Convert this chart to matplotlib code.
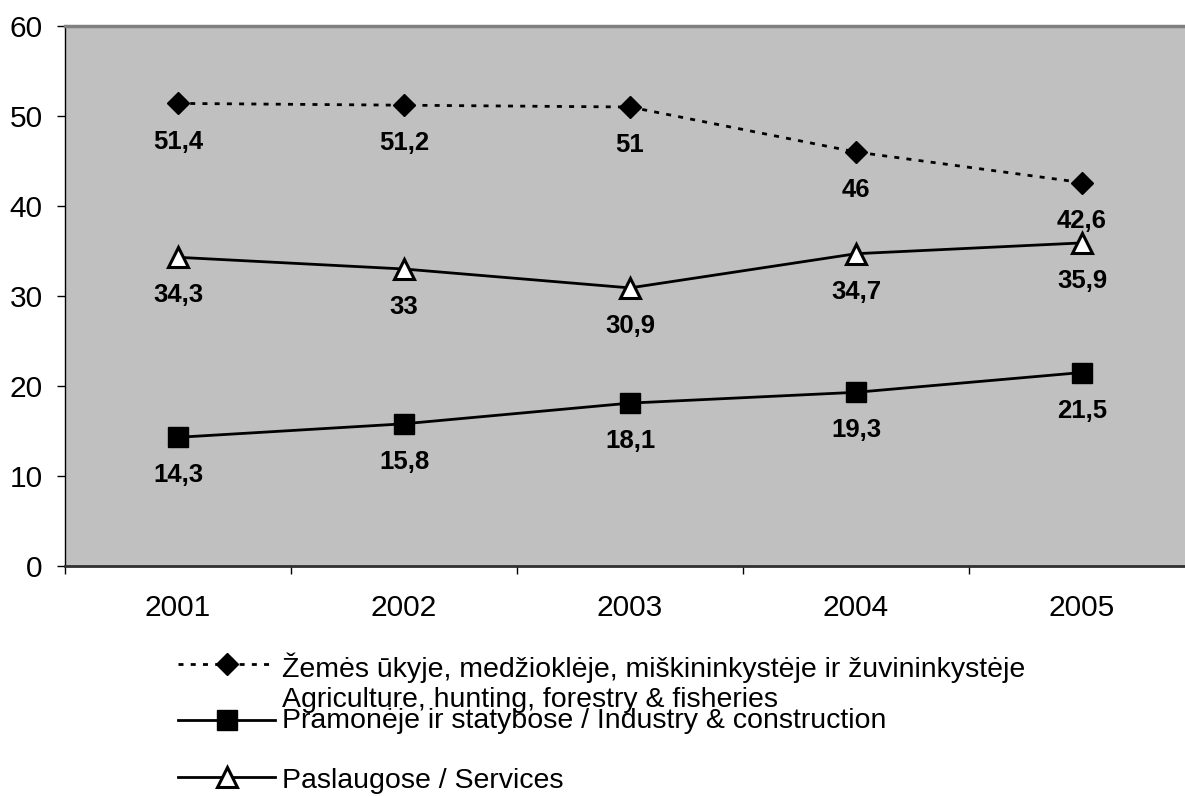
import matplotlib
matplotlib.use("Agg")
import matplotlib.pyplot as plt
from matplotlib.lines import Line2D

years = ["2001", "2002", "2003", "2004", "2005"]
agriculture = [51.4, 51.2, 51, 46, 42.6]
industry = [14.3, 15.8, 18.1, 19.3, 21.5]
services = [34.3, 33, 30.9, 34.7, 35.9]
yticks = [0, 10, 20, 30, 40, 50, 60]
legend_labels = [
    ["Žemės ūkyje, medžioklėje, miškininkystėje ir žuvininkystėje",
     "Agriculture, hunting, forestry & fisheries"],
    ["Pramonėje ir statybose / Industry & construction"],
    ["Paslaugose / Services"],
]

plt.rcParams['font.family'] = ['Liberation Sans', 'DejaVu Sans']

W, H = 1185, 797
fig = plt.figure(figsize=(W / 100, H / 100), dpi=100)

left_px, right_px, top_px, bot_px = 65, 65 + 5 * 226, 26, 566
ax = fig.add_axes([left_px / W, 1 - bot_px / H, (right_px - left_px) / W, (bot_px - top_px) / H])
ax.set_facecolor('#C0C0C0')

x = list(range(len(years)))
dash = (0, (1.8, 2.6))
series = [
    (agriculture, dict(color='black', lw=2, linestyle=dash, marker='D', ms=11.5,
                       mfc='black', mec='black', mew=1)),
    (industry, dict(color='black', lw=2, linestyle='-', marker='s', ms=14,
                    mfc='black', mec='black', mew=1)),
    (services, dict(color='black', lw=2, linestyle='-', marker='^', ms=14,
                    mfc='white', mec='black', mew=2.2)),
]
for vals, kw in series:
    ax.plot(x, vals, zorder=3, **kw)
    for xi, v in zip(x, vals):
        lab = ('%g' % v).replace('.', ',')
        ax.annotate(lab, (xi, v), xytext=(0, -27.5), textcoords='offset points',
                    ha='center', va='center', fontsize=18.5, fontweight='bold')

ax.set_xlim(-0.5, len(years) - 0.5)
ax.set_ylim(0, 60)
ax.set_yticks(yticks)
ax.set_yticklabels([str(t) for t in yticks], fontsize=21.5)
ax.tick_params(axis='y', direction='out', length=6, width=1, pad=10, colors='black')
ax.set_xticks(x)
ax.set_xticklabels(years, fontsize=21.5)
ax.tick_params(axis='x', which='major', length=0, pad=20)
ax.set_xticks([i - 0.5 for i in range(len(years) + 1)], minor=True)
ax.tick_params(axis='x', which='minor', direction='out', length=6, width=1, color='black')

ax.spines['left'].set_color('black')
ax.spines['left'].set_linewidth(1)
ax.spines['bottom'].set_color('#303030')
ax.spines['bottom'].set_linewidth(2)
ax.spines['top'].set_color('#808080')
ax.spines['top'].set_linewidth(2.5)
ax.spines['right'].set_visible(False)

# legend drawn in pixel coordinates
lax = fig.add_axes([0, 0, 1, 1])
lax.set_xlim(0, W)
lax.set_ylim(H, 0)
lax.axis('off')
handle_y = [664, 720, 777]
baselines = [[677, 707], [728], [788]]
for (vals, kw), hy, lines, bl in zip(series, handle_y, legend_labels, baselines):
    lax.add_line(Line2D([178, 275], [hy, hy], color='black', lw=2, linestyle=kw['linestyle']))
    lax.add_line(Line2D([226.5], [hy], linestyle='none', marker=kw['marker'], ms=kw['ms'],
                        mfc=kw['mfc'], mec=kw['mec'], mew=kw['mew']))
    for txt, b in zip(lines, bl):
        lax.text(282, b, txt, fontsize=20.5, ha='left', va='baseline')

fig.savefig('out.png', dpi=100)
